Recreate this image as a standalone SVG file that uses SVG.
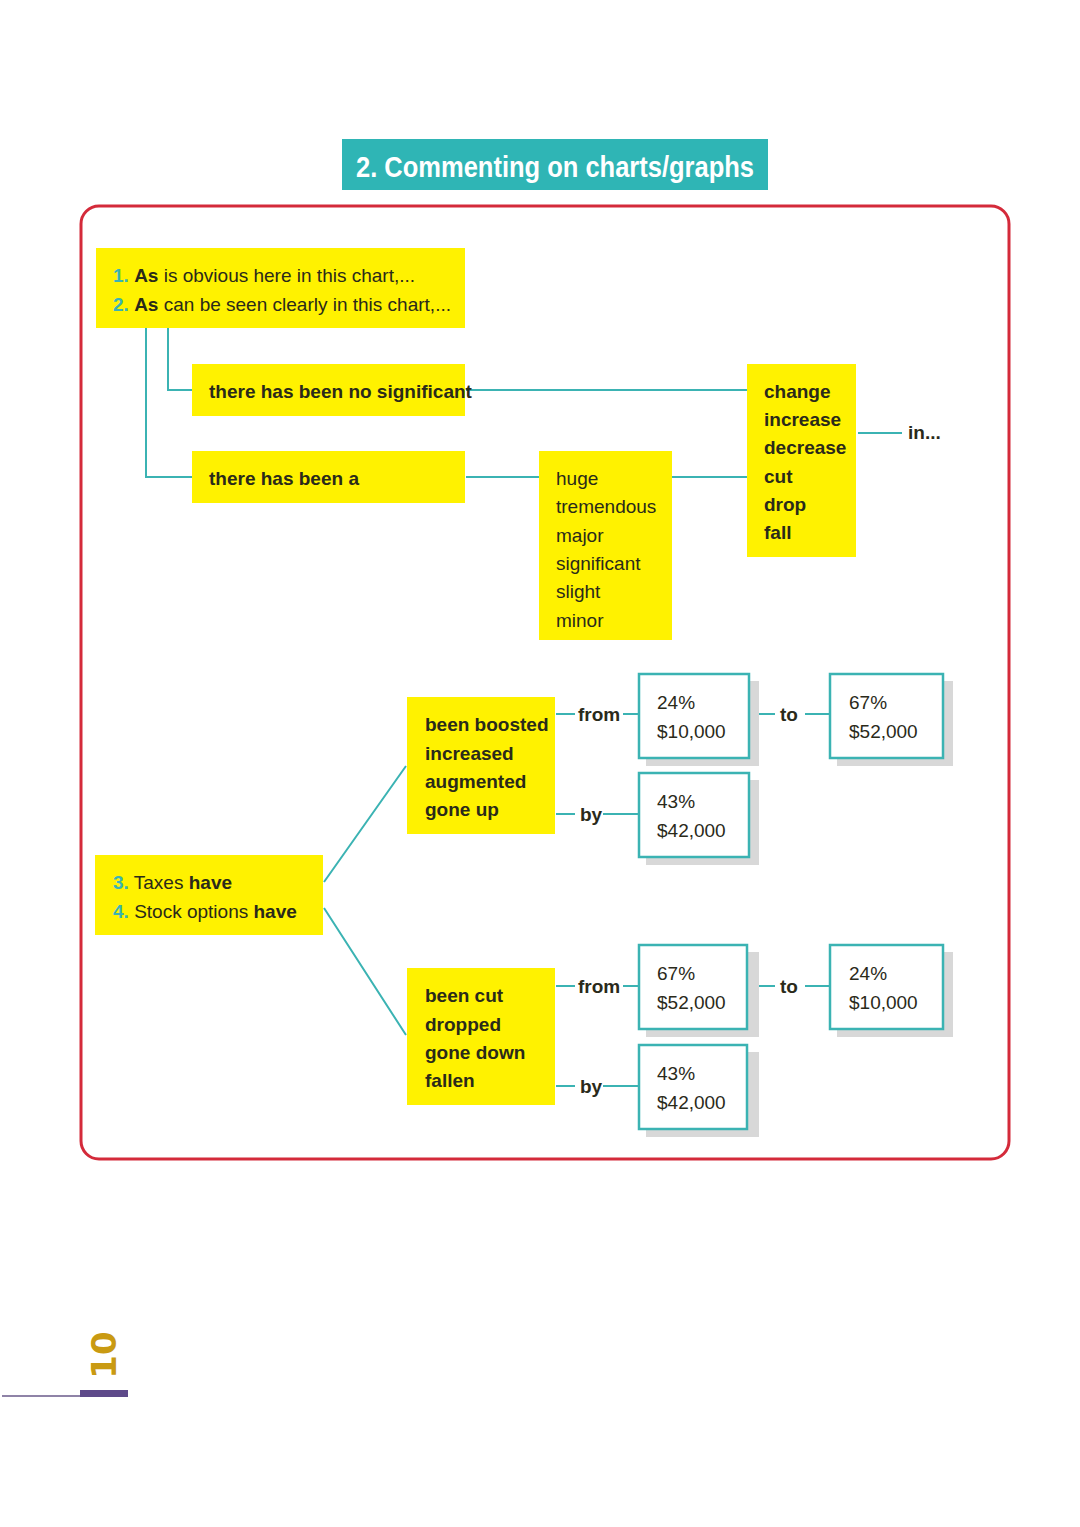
<svg xmlns="http://www.w3.org/2000/svg" width="1080" height="1527" viewBox="0 0 1080 1527">
<style>
.y{fill:#fff200}
.t{font-family:"Liberation Sans",Arial,sans-serif;font-size:19px;fill:#2a2a1a}
.b{font-weight:bold}
.n{font-weight:bold;fill:#3bb3b3}
.c{fill:none;stroke:#3bb3b3;stroke-width:2}
.bx{fill:#fff;stroke:#3bb3b3;stroke-width:2.5}
.sh{fill:#d8d8d8}
</style>
<rect width="1080" height="1527" fill="#fff"/>
<g id="title"><rect x="342" y="139" width="426" height="51" fill="#2fb5b5"/>
<text x="555" y="177" text-anchor="middle" font-family="Liberation Sans,sans-serif" font-weight="bold" font-size="30" fill="#fff" transform="translate(555 0) scale(0.85 1) translate(-555 0)">2. Commenting on charts/graphs</text></g>
<rect x="81" y="206" width="928" height="953" rx="18" fill="none" stroke="#d42a3a" stroke-width="3"/>
<g id="connectors">
<path class="c" d="M146 328V477H192M168 328V390H192M466 390H747M466 477H540M672 477H747M858 433H902"/>
<path class="c" d="M324 882L406 766M324 908L406 1035"/>
<path class="c" d="M556 714H575M623 714H639M556 814H575M603 814H639M556 986H575M623 986H639M556 1086H575M603 1086H639M750 714H775M805 714H830M750 986H775M805 986H830"/>
</g>
<g id="n1"><rect class="y" x="96" y="248" width="369" height="80"/>
<text class="t" x="113" y="282"><tspan class="n">1.</tspan>  <tspan class="b">As</tspan> is obvious here in this chart,...</text>
<text class="t" x="113" y="311"><tspan class="n">2.</tspan>  <tspan class="b">As</tspan> can be seen clearly in this chart,...</text></g>
<g id="n2"><rect class="y" x="192" y="364" width="273" height="52"/><text class="t b" x="209" y="398">there has been no significant</text></g>
<g id="n3"><rect class="y" x="192" y="451" width="273" height="52"/><text class="t b" x="209" y="485">there has been a</text></g>
<g id="n4"><rect class="y" x="539" y="451" width="133" height="189"/>
<text class="t" x="556" y="485">huge</text><text class="t" x="556" y="513">tremendous</text><text class="t" x="556" y="542">major</text><text class="t" x="556" y="570">significant</text><text class="t" x="556" y="598">slight</text><text class="t" x="556" y="627">minor</text></g>
<g id="n5"><rect class="y" x="747" y="364" width="109" height="193"/>
<g class="t b"><text x="764" y="398">change</text><text x="764" y="426">increase</text><text x="764" y="454">decrease</text><text x="764" y="483">cut</text><text x="764" y="511">drop</text><text x="764" y="539">fall</text></g></g>
<text class="t b" x="908" y="439">in...</text>
<g id="n6"><rect class="y" x="95" y="855" width="228" height="80"/>
<text class="t" x="113" y="889"><tspan class="n" fill="#3bb3b3">3.</tspan>  Taxes <tspan class="b">have</tspan></text>
<text class="t" x="113" y="918"><tspan class="n">4.</tspan>  Stock options <tspan class="b">have</tspan></text></g>
<g id="n7"><rect class="y" x="407" y="697" width="148" height="137"/>
<g class="t b"><text x="425" y="731">been boosted</text><text x="425" y="760">increased</text><text x="425" y="788">augmented</text><text x="425" y="816">gone up</text></g></g>
<g id="n8"><rect class="y" x="407" y="968" width="148" height="137"/>
<g class="t b"><text x="425" y="1002">been cut</text><text x="425" y="1031">dropped</text><text x="425" y="1059">gone down</text><text x="425" y="1087">fallen</text></g></g>
<g class="t b"><text x="578" y="721">from</text><text x="580" y="821">by</text><text x="578" y="993">from</text><text x="580" y="1093">by</text><text x="780" y="721">to</text><text x="780" y="993">to</text></g>
<g id="v1"><rect class="sh" x="646" y="681" width="113" height="85"/><rect class="bx" x="639" y="674" width="110" height="84"/><text class="t" x="657" y="709">24%</text><text class="t" x="657" y="738">$10,000</text></g>
<g id="v2"><rect class="sh" x="837" y="681" width="116" height="85"/><rect class="bx" x="830" y="674" width="113" height="84"/><text class="t" x="849" y="709">67%</text><text class="t" x="849" y="738">$52,000</text></g>
<g id="v3"><rect class="sh" x="646" y="780" width="113" height="85"/><rect class="bx" x="639" y="773" width="110" height="84"/><text class="t" x="657" y="808">43%</text><text class="t" x="657" y="837">$42,000</text></g>
<g id="v4"><rect class="sh" x="646" y="952" width="113" height="85"/><rect class="bx" x="639" y="945" width="108" height="84"/><text class="t" x="657" y="980">67%</text><text class="t" x="657" y="1009">$52,000</text></g>
<g id="v5"><rect class="sh" x="837" y="952" width="116" height="85"/><rect class="bx" x="830" y="945" width="113" height="84"/><text class="t" x="849" y="980">24%</text><text class="t" x="849" y="1009">$10,000</text></g>
<g id="v6"><rect class="sh" x="646" y="1052" width="113" height="85"/><rect class="bx" x="639" y="1045" width="108" height="84"/><text class="t" x="657" y="1080">43%</text><text class="t" x="657" y="1109">$42,000</text></g>
<line x1="2" y1="1396" x2="80" y2="1396" stroke="#6a5a8a" stroke-width="1.5"/>
<rect x="80" y="1390" width="48" height="7" fill="#5e4a8a"/>
<text x="0" y="0" transform="translate(116 1355) rotate(-90)" text-anchor="middle" font-family="DejaVu Sans,sans-serif" font-weight="bold" font-size="34" fill="#c99a12">10</text>
</svg>
